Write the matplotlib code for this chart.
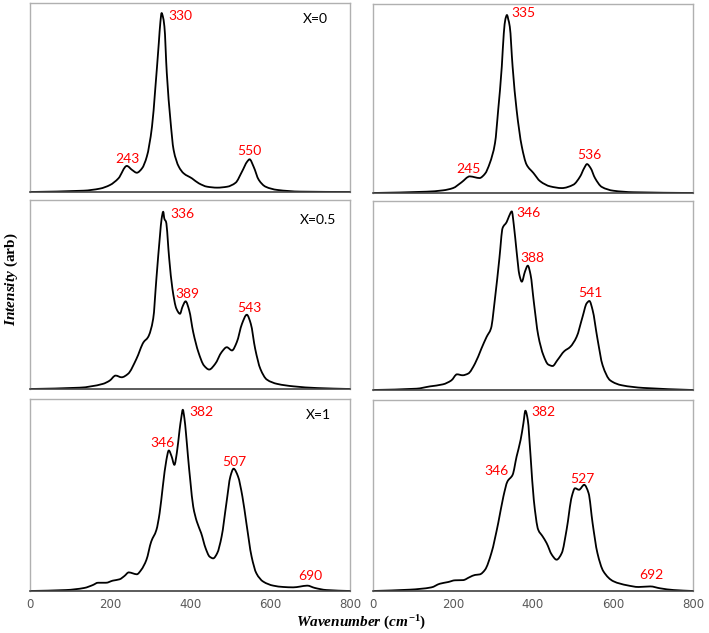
import matplotlib
matplotlib.use("Agg")
import matplotlib.pyplot as plt
from matplotlib.path import Path
from matplotlib.patches import PathPatch

# ---------------- data (wavenumber cm^-1, intensity arb. 0-100) ----------------
wn_x0_a = [0, 134, 175, 200, 221, 242, 255, 267, 280, 292, 305, 313, 322, 326, 329, 332, 336, 342, 351, 359,
           372, 384, 405, 422, 443, 468, 493, 514, 530, 543, 549, 559, 572, 589, 618, 676, 800]
int_x0_a = [0, 0.7, 1.8, 3.7, 7.2, 13.8, 11.7, 10.2, 12.5, 18.7, 34.6, 54.1, 78.8, 90, 94.7, 93, 87.6, 62.9, 38.2, 22.3,
            13.4, 9.9, 7.2, 4.6, 2.8, 2.3, 2.8, 4.9, 10.8, 16.1, 17.3, 13.4, 6.4, 2.8, 1.1, 0.2, 0]

wn_x0_b = [0, 134, 175, 200, 221, 242, 255, 266, 280, 292, 305, 313, 322, 327, 331, 335, 338, 342, 349, 359,
           372, 384, 401, 418, 443, 472, 501, 518, 528, 535, 544, 555, 572, 601, 651, 800]
int_x0_b = [0, 0.7, 1.4, 2.6, 5.6, 8.8, 8.3, 7.9, 10.2, 15.8, 26.4, 44.0, 66.9, 84.5, 92, 94.2, 92, 88.0, 66.9, 44.0,
            24.6, 15.0, 10.6, 6.2, 3.5, 2.6, 4.4, 8.8, 13.2, 15.3, 13.2, 7.9, 3.2, 1.2, 0.4, 0]

wn_x05_a = [0, 124, 182, 199, 214, 229, 245, 266, 284, 295, 308, 316, 325, 329, 333, 336, 340, 348, 356, 366,
            375, 381, 389, 398, 408, 421, 435, 448, 463, 479, 492, 505, 517, 530, 542, 552, 563, 576, 592,
            618, 659, 718, 800]
int_x05_a = [0, 0.7, 2.7, 4.4, 7.1, 6.2, 8.0, 15.9, 24.8, 27.4, 37.2, 58.4, 81.4, 90, 93.8, 90, 88.5, 69.0, 53.1, 42.5,
             39.8, 43.4, 46.4, 41.6, 30.1, 19.5, 12.4, 10.3, 13.3, 19.5, 22.1, 20.4, 24.8, 34.5, 39.3, 34.5, 21.2, 10.6, 5.0,
             2.7, 1.4, 0.5, 0]

wn_x05_b = [0, 109, 142, 175, 196, 210, 224, 238, 255, 271, 284, 295, 305, 316, 324, 334, 340, 347, 352, 359,
            366, 372, 380, 387, 394, 402, 413, 426, 438, 449, 461, 478, 493, 509, 524, 534, 541, 549, 561,
            574, 593, 622, 676, 800]
int_x05_b = [0, 0.7, 1.9, 3.0, 5.1, 8.3, 7.8, 8.7, 14.0, 21.9, 28.1, 32.6, 48.5, 69.7, 85.7, 88.8, 91.9, 94.5, 87.4, 73.3,
             60.9, 57.3, 62.7, 65.8, 60.9, 46.7, 29.0, 18.4, 13.5, 12.7, 15.8, 20.5, 22.8, 28.1, 38.8, 45.8, 47.1, 42.3, 27.3,
             13.1, 5.1, 2.5, 1.1, 0]

wn_x1_a = [0, 90, 136, 157, 170, 190, 207, 224, 236, 247, 257, 267, 278, 291, 303, 316, 324, 332, 341, 347,
           354, 361, 367, 374, 378, 382, 386, 390, 395, 401, 408, 417, 428, 439, 449, 458, 468, 479, 491,
           501, 509, 520, 531, 541, 554, 566, 583, 608, 633, 658, 675, 693, 712, 741, 800]
int_x1_a = [0, 0.5, 1.6, 3.1, 4.3, 4.3, 5.4, 6.1, 7.8, 9.7, 9.2, 8.7, 11.0, 16.2, 25.7, 31.8, 40.5, 54.4, 68.3, 73.2,
            70.1, 65.7, 71.8, 84.0, 90, 94.4, 90, 82, 70, 57, 44.0, 36.2, 30.1, 22.3, 17.9, 17.0, 19.7, 28.3, 45.7,
            59.7, 63.7, 59.7, 49.2, 35.3, 17.9, 9.2, 4.9, 2.8, 2.1, 1.9, 2.3, 2.8, 1.6, 0.5, 0]

wn_x1_b = [0, 92, 146, 167, 188, 205, 225, 242, 255, 267, 280, 296, 313, 326, 336, 349, 359, 369, 376, 381,
           387, 394, 402, 413, 424, 434, 447, 459, 472, 484, 497, 505, 515, 528, 539, 549, 561, 576, 601,
           635, 664, 693, 718, 752, 800]
int_x1_b = [0, 0.7, 1.9, 3.8, 4.7, 5.6, 5.7, 7.3, 8.4, 8.7, 11.1, 19.9, 35.5, 49.5, 57.3, 60.8, 70.4, 79.1, 87.8, 94.4,
            89.5, 70.4, 47.7, 32.1, 28.6, 25.1, 19.0, 16.4, 19.9, 32.1, 49.5, 53.8, 53.0, 55.6, 51.2, 35.5, 19.9, 10.3, 5.1,
            3.0, 2.1, 2.4, 1.4, 0.5, 0]

x_ticks = [0, 200, 400, 600, 800]
sample_labels = ["X=0", "X=0.5", "X=1"]

peak_labels_x0_a = ["330", "243", "550"]
peak_labels_x0_b = ["335", "245", "536"]
peak_labels_x05_a = ["336", "389", "543"]
peak_labels_x05_b = ["346", "388", "541"]
peak_labels_x1_a = ["382", "346", "507", "690"]
peak_labels_x1_b = ["382", "346", "527", "692"]

# ---------------- layout ----------------
plt.rcParams["mathtext.fontset"] = "custom"
plt.rcParams["mathtext.it"] = "Liberation Serif:italic:bold"
plt.rcParams["mathtext.rm"] = "Liberation Serif:bold"
plt.rcParams["mathtext.bf"] = "Liberation Serif:bold"

W, H = 709, 633
fig = plt.figure(figsize=(W / 100, H / 100), dpi=100)


def box(x0, y0, x1, y1):
    return [x0 / W, 1 - y1 / H, (x1 - x0) / W, (y1 - y0) / H]


def smooth_path(xs, ys):
    """Monotone (Fritsch-Carlson) cubic through the read points, as Bezier segments."""
    n = len(xs)
    d = [(ys[i + 1] - ys[i]) / (xs[i + 1] - xs[i]) for i in range(n - 1)]
    m = [0.0] * n
    m[0], m[-1] = d[0], d[-1]
    for i in range(1, n - 1):
        if d[i - 1] * d[i] <= 0:
            m[i] = 0.0
        else:
            h0 = xs[i] - xs[i - 1]
            h1 = xs[i + 1] - xs[i]
            w1, w2 = 2 * h1 + h0, h1 + 2 * h0
            m[i] = (w1 + w2) / (w1 / d[i - 1] + w2 / d[i])
    verts = [(xs[0], ys[0])]
    codes = [Path.MOVETO]
    for i in range(n - 1):
        h = xs[i + 1] - xs[i]
        verts += [(xs[i] + h / 3, ys[i] + m[i] * h / 3),
                  (xs[i + 1] - h / 3, ys[i + 1] - m[i + 1] * h / 3),
                  (xs[i + 1], ys[i + 1])]
        codes += [Path.CURVE4] * 3
    return Path(verts, codes)


panels = [
    (box(30, 3, 350, 192), wn_x0_a, int_x0_a, peak_labels_x0_a,
     [(347, 93.3, "left"), (243, 17.3, "center"), (549, 21.9, "center")], sample_labels[0], (713, 91.5), False),
    (box(373, 4, 693, 193), wn_x0_b, int_x0_b, peak_labels_x0_b,
     [(345, 95.4, "left"), (238, 12.8, "center"), (541, 20.2, "center")], None, None, False),
    (box(30, 200, 350, 389), wn_x05_a, int_x05_a, peak_labels_x05_a,
     [(351, 92.4, "left"), (393, 50.4, "center"), (549, 43.0, "center")], sample_labels[1], (720, 89.2), False),
    (box(373, 201, 693, 390), wn_x05_b, int_x05_b, peak_labels_x05_b,
     [(358, 93.6, "left"), (399, 69.7, "center"), (543, 51.2, "center")], None, None, False),
    (box(30, 399, 350, 591), wn_x1_a, int_x1_a, peak_labels_x1_a,
     [(398, 93.4, "left"), (362, 77.0, "right"), (510, 67.0, "center"), (701, 8.0, "center")],
     sample_labels[2], (720, 91.7), True),
    (box(373, 400, 693, 591), wn_x1_b, int_x1_b, peak_labels_x1_b,
     [(397, 93.7, "left"), (338, 62.9, "right"), (523, 58.5, "center"), (695, 8.2, "center")], None, None, True),
]

for rect, xs, ys, labels, lpos, sname, spos, show_x in panels:
    ax = fig.add_axes(rect)
    ax.add_patch(PathPatch(smooth_path(xs, ys), facecolor="none", edgecolor="black", lw=1.3,
                           joinstyle="round", capstyle="round"))
    ax.set_xlim(0, 800)
    ax.set_ylim(0, 100)
    ax.set_yticks([])
    ax.set_xticks(x_ticks)
    ax.tick_params(axis="x", length=0, pad=5, labelsize=8.5, labelcolor="#595959")
    if not show_x:
        ax.set_xticklabels([])
    for side in ["left", "right", "top"]:
        ax.spines[side].set_color("#b0b0b0")
        ax.spines[side].set_linewidth(1.0)
    ax.spines["bottom"].set_color("#404040")
    ax.spines["bottom"].set_linewidth(1.2)
    for lab, (lx, ly, ha) in zip(labels, lpos):
        ax.text(lx, ly, lab, color="#ff0000", fontsize=10, family="Lato", ha=ha, va="center")
    if sname:
        ax.text(spos[0], spos[1], sname, color="black", fontsize=10, family="Lato", ha="center", va="center")

fig.text(361 / W, 1 - 623 / H, r"$\mathit{Wavenumber\ (cm^{-1})}$", ha="center", va="center", fontsize=11)
fig.text(11 / W, 1 - 279 / H, r"$\mathit{Intensity}$ (arb)", family="Liberation Serif", fontweight="bold",
         rotation=90, ha="center", va="center", fontsize=11)

fig.savefig("out.png", dpi=100)
